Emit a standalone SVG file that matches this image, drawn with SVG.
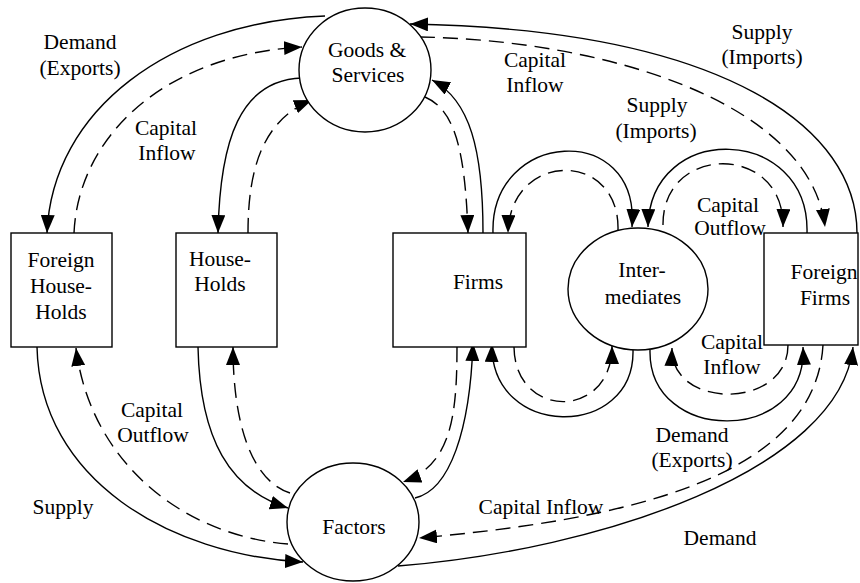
<svg xmlns="http://www.w3.org/2000/svg" width="860" height="583" viewBox="0 0 860 583">
<defs>
<style>
.n{fill:#fff;stroke:#000;stroke-width:1.4}
.t{font-family:"Liberation Serif","Times New Roman",serif;font-size:21.5px;fill:#000;text-anchor:middle}
.s{fill:none;stroke:#000;stroke-width:1.4;marker-end:url(#ah)}
.d{fill:none;stroke:#000;stroke-width:1.4;stroke-dasharray:15 8;marker-end:url(#ah)}
</style>
<marker id="ah" markerUnits="userSpaceOnUse" markerWidth="18" markerHeight="14" refX="18" refY="7" orient="auto">
<path d="M0,0 L18,7 L0,14 z" fill="#000"/>
</marker>
</defs>
<rect width="860" height="583" fill="#fff"/>
<g id="connectors">
<path class="s" d="M325,16 C170,22 52,110 47,233"/>
<path class="d" d="M74,233 C78,140 160,55 302,47"/>
<path class="s" d="M302,78 C240,80 220,140 218,233"/>
<path class="d" d="M248,233 C248,170 262,120 312,100"/>
<path class="s" d="M483,233 C483,150 470,100 432,80"/>
<path class="d" d="M425,97 C455,110 465,150 468,233"/>
<path class="s" d="M857,233 C857,130 730,30 410,24"/>
<path class="d" d="M420,37 C600,40 810,100 825,227"/>
<path class="s" d="M493,233 C490,130 640,120 632,227"/>
<path class="d" d="M618,230 C620,150 510,150 508,233"/>
<path class="s" d="M807,233 C810,125 650,120 648,227"/>
<path class="d" d="M663,225 C662,143 785,143 783,227"/>
<path class="d" d="M514,347 C515,420 612,420 612,346"/>
<path class="s" d="M633,350 C635,440 490,440 492,344"/>
<path class="s" d="M650,350 C648,445 808,445 803,347"/>
<path class="d" d="M788,345 C788,410 670,410 672,348"/>
<path class="d" d="M457,347 C457,420 450,465 403,482"/>
<path class="s" d="M415,498 C450,490 470,430 473,343"/>
<path class="s" d="M37,347 C40,480 170,555 303,562"/>
<path class="d" d="M288,544 C180,535 90,460 76,348"/>
<path class="s" d="M198,347 C200,440 230,490 288,508"/>
<path class="d" d="M290,493 C250,480 233,420 233,347"/>
<path class="d" d="M823,345 C815,480 620,520 419,538"/>
<path class="s" d="M398,566 C600,550 840,470 853,347"/>
</g>
<g id="goods"><ellipse class="n" cx="365" cy="70" rx="66" ry="62"/><text class="t" x="367" y="57">Goods &amp;</text><text class="t" x="368" y="82">Services</text></g>
<g id="foreign-households"><rect class="n" x="11" y="233" width="101" height="114"/><text class="t" x="61" y="267">Foreign</text><text class="t" x="61" y="293">House-</text><text class="t" x="61" y="319">Holds</text></g>
<g id="households"><rect class="n" x="176" y="233" width="101" height="114"/><text class="t" x="220" y="266">House-</text><text class="t" x="220" y="291">Holds</text></g>
<g id="firms"><rect class="n" x="393" y="233" width="133" height="114"/><text class="t" x="478" y="289">Firms</text></g>
<g id="intermediates"><ellipse class="n" cx="638" cy="289" rx="70" ry="61"/><text class="t" x="642" y="277">Inter-</text><text class="t" x="643" y="304">mediates</text></g>
<g id="foreign-firms"><rect class="n" x="764" y="233" width="94" height="112"/><text class="t" x="824" y="279">Foreign</text><text class="t" x="825" y="305">Firms</text></g>
<g id="factors"><ellipse class="n" cx="353" cy="522" rx="66" ry="59"/><text class="t" x="354" y="534">Factors</text></g>
<g id="labels">
<text class="t" x="80" y="49">Demand</text><text class="t" x="80" y="75">(Exports)</text>
<text class="t" x="166" y="135">Capital</text><text class="t" x="167" y="160">Inflow</text>
<text class="t" x="535" y="67">Capital</text><text class="t" x="535" y="92">Inflow</text>
<text class="t" x="762" y="39">Supply</text><text class="t" x="762" y="64">(Imports)</text>
<text class="t" x="657" y="112">Supply</text><text class="t" x="656" y="138">(Imports)</text>
<text class="t" x="728" y="212">Capital</text><text class="t" x="730" y="235">Outflow</text>
<text class="t" x="732" y="349">Capital</text><text class="t" x="732" y="374">Inflow</text>
<text class="t" x="152" y="417">Capital</text><text class="t" x="153" y="442">Outflow</text>
<text class="t" x="63" y="514">Supply</text>
<text class="t" x="692" y="442">Demand</text><text class="t" x="692" y="467">(Exports)</text>
<text class="t" x="541" y="514">Capital Inflow</text>
<text class="t" x="720" y="545">Demand</text>
</g>
</svg>
